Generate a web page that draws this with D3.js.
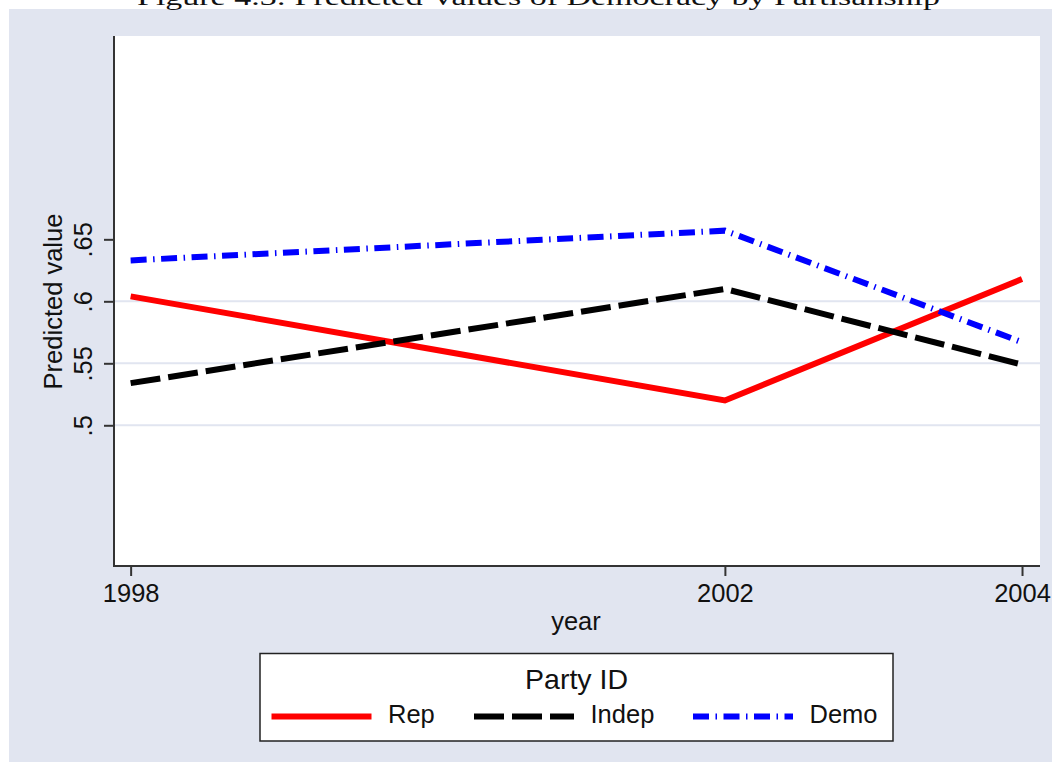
<!DOCTYPE html>
<html>
<head>
<meta charset="utf-8">
<script src="https://cdn.jsdelivr.net/npm/d3@7"></script>
<style>
  html, body { margin: 0; padding: 0; background: #ffffff; }
  svg { display: block; }
  text { font-family: "Liberation Sans", Arial, sans-serif; fill: #111; }
</style>
</head>
<body>
<svg id="chart" width="1052" height="770"></svg>
<script>
// ---- data ----
const years = [1998, 2002, 2004];
const rep   = [0.604, 0.520, 0.618];
const indep = [0.534, 0.610, 0.549];
const demo  = [0.633, 0.657, 0.567];
const seriesNames = ["Rep", "Indep", "Demo"];
const yTickValues = [0.5, 0.55, 0.6, 0.65];
const yTickLabels = [".5", ".55", ".6", ".65"];
const gridValues = [0.5, 0.55, 0.6];
const xTickValues = [1998, 2002, 2004];
const titleText = "Figure 4.3: Predicted Values of Democracy by Partisanship";
const legendTitle = "Party ID";
const xLabel = "year";
const yLabel = "Predicted value";

// ---- styles ----
const styles = {
  Rep:   { color: "#ff0000", dash: null },
  Indep: { color: "#000000", dash: "30,8" },
  Demo:  { color: "#0000ff", dash: "16,6.5,1.5,6.5" }
};
const seriesData = { Rep: rep, Indep: indep, Demo: demo };

const svg = d3.select("#chart");
const bg = "#e1e5f0";

// background panel
svg.append("rect").attr("x", 9).attr("y", 9).attr("width", 1052 - 9).attr("height", 762 - 9)
  .attr("fill", bg);

// title (cut off at the top edge, as in the reference)
svg.append("text")
  .attr("x", 137).attr("y", 5)
  .attr("textLength", 803).attr("lengthAdjust", "spacingAndGlyphs")
  .style("font-family", "'Liberation Serif', 'DejaVu Serif', serif")
  .style("font-size", "24px")
  .text(titleText);

const plot = { left: 114, right: 1040, top: 36, bottom: 566 };

svg.append("rect")
  .attr("x", plot.left).attr("y", plot.top)
  .attr("width", plot.right - plot.left).attr("height", plot.bottom - plot.top)
  .attr("fill", "#ffffff");

const x = d3.scaleLinear().domain([1997.888, 2004.121]).range([plot.left, plot.right]);
const y = d3.scaleLinear().domain([0.3865, 0.814]).range([plot.bottom, plot.top]);

// gridlines
svg.append("g").selectAll("line").data(gridValues).join("line")
  .attr("x1", plot.left).attr("x2", plot.right)
  .attr("y1", d => y(d)).attr("y2", d => y(d))
  .attr("stroke", "#e1e5f0").attr("stroke-width", 2);

// lines
const lineGen = d3.line().x((d, i) => x(years[i])).y(d => y(d));
seriesNames.forEach(name => {
  const st = styles[name];
  const p = svg.append("path")
    .datum(seriesData[name])
    .attr("d", lineGen)
    .attr("fill", "none")
    .attr("stroke", st.color)
    .attr("stroke-width", 6)
    .attr("stroke-linejoin", "miter")
    .attr("stroke-linecap", "butt");
  if (st.dash) p.attr("stroke-dasharray", st.dash);
});

// y axis
const yAxis = d3.axisLeft(y).tickValues(yTickValues)
  .tickFormat((d, i) => yTickLabels[i]).tickSizeOuter(0).tickSize(10);
const gy = svg.append("g").attr("transform", `translate(${plot.left},0)`).call(yAxis);
gy.select(".domain").remove();
gy.selectAll(".tick line").attr("stroke", "#333").attr("stroke-width", 2);
gy.selectAll(".tick text").remove();
gy.selectAll(".tick").append("text")
  .attr("transform", "rotate(-90)")
  .attr("x", 0).attr("y", -22)
  .attr("text-anchor", "middle")
  .style("font-size", "25.5px")
  .style("fill", "#111")
  .text((d, i) => yTickLabels[i]);
svg.append("line")
  .attr("x1", plot.left).attr("x2", plot.left)
  .attr("y1", plot.top).attr("y2", plot.bottom + 1)
  .attr("stroke", "#333").attr("stroke-width", 2);

// x axis
const xAxis = d3.axisBottom(x).tickValues(xTickValues).tickFormat(d3.format("d"))
  .tickSizeOuter(0).tickSize(10);
const gx = svg.append("g").attr("transform", `translate(0,${plot.bottom})`).call(xAxis);
gx.select(".domain").remove();
gx.selectAll(".tick line").attr("stroke", "#333").attr("stroke-width", 2);
gx.selectAll(".tick text")
  .attr("y", 35.5).attr("dy", null)
  .style("font-size", "25.5px").style("font-family", "'Liberation Sans', Arial, sans-serif")
  .style("fill", "#111");
svg.append("line")
  .attr("x1", plot.left - 1).attr("x2", plot.right)
  .attr("y1", plot.bottom).attr("y2", plot.bottom)
  .attr("stroke", "#333").attr("stroke-width", 2);

// axis titles
svg.append("text")
  .attr("x", 576).attr("y", 630)
  .attr("text-anchor", "middle")
  .style("font-size", "25.5px")
  .text(xLabel);
svg.append("text")
  .attr("transform", `translate(61.5,301.5) rotate(-90)`)
  .attr("text-anchor", "middle")
  .style("font-size", "25.5px")
  .text(yLabel);

// legend
const lg = svg.append("g");
lg.append("rect")
  .attr("x", 260).attr("y", 653.5).attr("width", 633).attr("height", 87.5)
  .attr("fill", "#ffffff").attr("stroke", "#222").attr("stroke-width", 1.5);
lg.append("text")
  .attr("x", 576.5).attr("y", 688.5).attr("text-anchor", "middle")
  .style("font-size", "28.5px").text(legendTitle);
const legendX = [271.5, 474, 693];
seriesNames.forEach((name, i) => {
  const st = styles[name];
  const l = lg.append("line")
    .attr("x1", legendX[i]).attr("x2", legendX[i] + 100)
    .attr("y1", 716.5).attr("y2", 716.5)
    .attr("stroke", st.color).attr("stroke-width", 6);
  if (st.dash) l.attr("stroke-dasharray", st.dash);
  lg.append("text")
    .attr("x", legendX[i] + 116.5).attr("y", 723)
    .style("font-size", "25.5px").text(name);
});
</script>
</body>
</html>
